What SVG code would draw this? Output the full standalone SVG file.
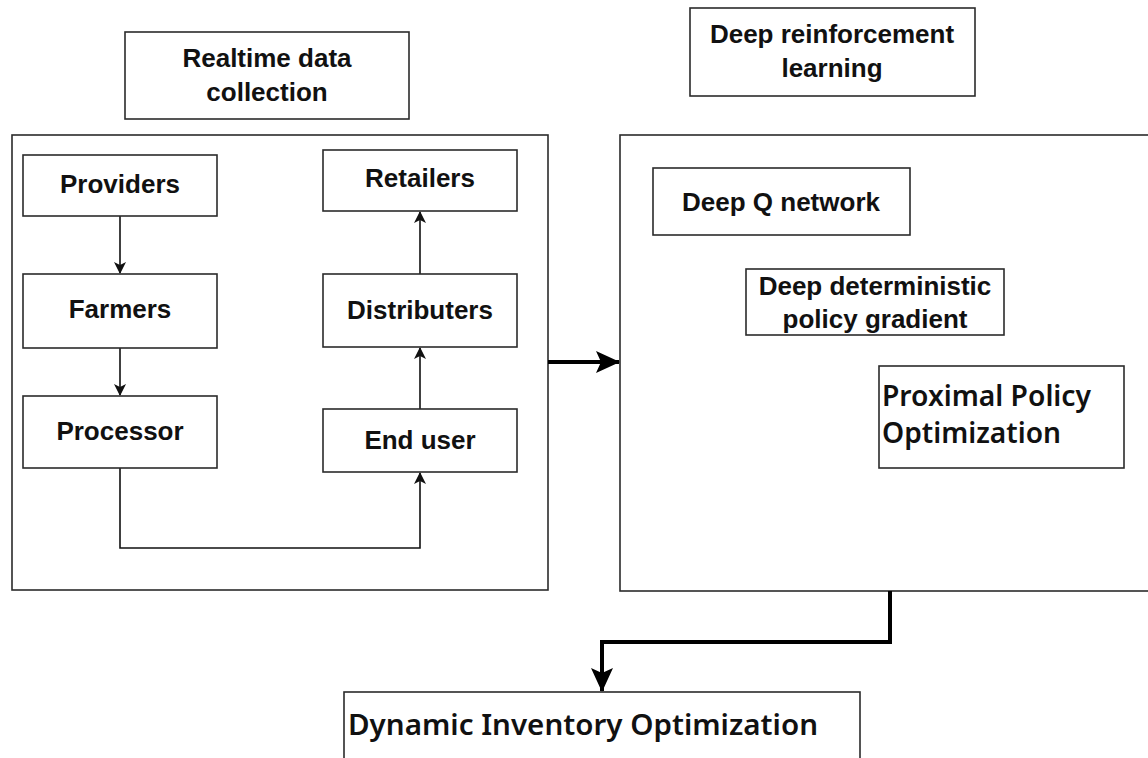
<svg xmlns="http://www.w3.org/2000/svg" width="1148" height="758" viewBox="0 0 1148 758">
<style>
.box{fill:#fff;stroke:#2b2b2b;stroke-width:1.6}
.t{font-family:"Liberation Sans",Arial,sans-serif;font-weight:bold;font-size:26px;fill:#111;text-anchor:middle}
.s{font-family:"Noto Sans","Open Sans",sans-serif;font-weight:600;font-size:29px;fill:#111}
.thin{fill:none;stroke:#111;stroke-width:1.6}
.thick{fill:none;stroke:#000;stroke-width:4}
</style>
<defs>
<marker id="a" markerWidth="12" markerHeight="12" refX="11" refY="6" orient="auto" markerUnits="userSpaceOnUse">
<path d="M0,0 L12,6 L0,12 L3,6 Z" fill="#111"/>
</marker>
<marker id="b" markerWidth="24" markerHeight="22" refX="23" refY="11" orient="auto" markerUnits="userSpaceOnUse">
<path d="M0,0 L24,11 L0,22 L5,11 Z" fill="#000"/>
</marker>
</defs>
<rect width="1148" height="758" fill="#fff"/>
<g id="realtime"><rect class="box" x="125" y="32" width="284" height="87"/><text class="t" x="267" y="67">Realtime data</text><text class="t" x="267" y="101">collection</text></g>
<g id="left-container"><rect class="box" x="12" y="135" width="536" height="455"/></g>
<g id="drl"><rect class="box" x="690" y="8" width="285" height="88"/><text class="t" x="832" y="43">Deep reinforcement</text><text class="t" x="832" y="77">learning</text></g>
<g id="right-container"><rect class="box" x="620" y="135" width="540" height="456"/></g>
<g id="connectors">
<path class="thin" d="M120,216 V273" marker-end="url(#a)"/>
<path class="thin" d="M120,348 V395" marker-end="url(#a)"/>
<path class="thin" d="M120,468 V548 H420 V473" marker-end="url(#a)"/>
<path class="thin" d="M420,409 V348" marker-end="url(#a)"/>
<path class="thin" d="M420,274 V212" marker-end="url(#a)"/>
<path class="thick" d="M548,362 H619" marker-end="url(#b)"/>
<path class="thick" d="M890,591 V642 H602 V691" marker-end="url(#b)"/>
</g>
<g id="providers"><rect class="box" x="23" y="155" width="194" height="61"/><text class="t" x="120" y="193">Providers</text></g>
<g id="farmers"><rect class="box" x="23" y="274" width="194" height="74"/><text class="t" x="120" y="318">Farmers</text></g>
<g id="processor"><rect class="box" x="23" y="396" width="194" height="72"/><text class="t" x="120" y="440">Processor</text></g>
<g id="retailers"><rect class="box" x="323" y="150" width="194" height="61"/><text class="t" x="420" y="187">Retailers</text></g>
<g id="distributers"><rect class="box" x="323" y="274" width="194" height="73"/><text class="t" x="420" y="319">Distributers</text></g>
<g id="enduser"><rect class="box" x="323" y="409" width="194" height="63"/><text class="t" x="420" y="449">End user</text></g>
<g id="dqn"><rect class="box" x="653" y="168" width="257" height="67"/><text class="t" x="781" y="211">Deep Q network</text></g>
<g id="ddpg"><rect class="box" x="746" y="269" width="258" height="66"/><text class="t" x="875" y="295">Deep deterministic</text><text class="t" x="875" y="328">policy gradient</text></g>
<g id="ppo"><rect class="box" x="879" y="366" width="245" height="102"/><text class="s" x="882" y="406" textLength="209" lengthAdjust="spacingAndGlyphs">Proximal Policy</text><text class="s" x="882" y="443" textLength="179" lengthAdjust="spacingAndGlyphs">Optimization</text></g>
<g id="dio"><rect class="box" x="344" y="692" width="516" height="80"/><text class="s" x="348" y="735" textLength="470" lengthAdjust="spacingAndGlyphs">Dynamic Inventory Optimization</text></g>
</svg>
